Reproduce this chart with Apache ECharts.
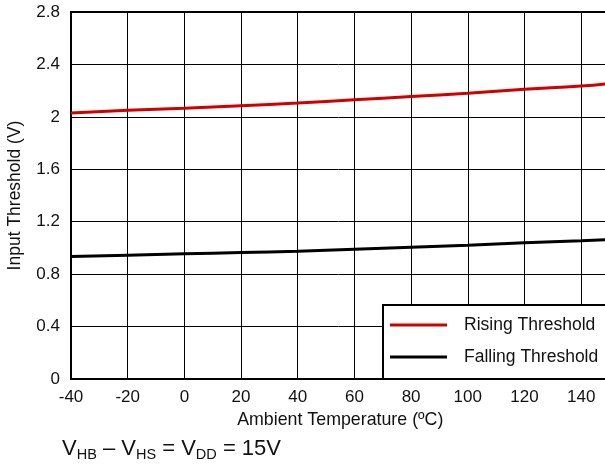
<!DOCTYPE html>
<html>
<head>
<meta charset="utf-8">
<script src="https://cdn.jsdelivr.net/npm/echarts@6/dist/echarts.min.js"></script>
<style>
  html, body { margin: 0; padding: 0; background: #fff; }
  #chart { width: 605px; height: 466px; }
</style>
</head>
<body>
<div id="chart"></div>
<script>
// Ambient temperature sample points (ºC)
const temperatures = [-40, -20, 0, 20, 40, 60, 80, 100, 120, 140, 150];
// Input threshold voltages (V)
const risingThreshold  = [2.03, 2.05, 2.065, 2.085, 2.105, 2.13, 2.155, 2.18, 2.21, 2.235, 2.255];
const fallingThreshold = [0.935, 0.945, 0.955, 0.965, 0.975, 0.99, 1.005, 1.02, 1.04, 1.055, 1.065];
const seriesNames = ['Rising Threshold', 'Falling Threshold'];
const xAxisTitle = 'Ambient Temperature (ºC)';
const yAxisTitle = 'Input Threshold (V)';

const FONT = 'Liberation Sans, Arial, Helvetica, sans-serif';
const pairs = (vals) => temperatures.map((t, i) => [t, vals[i]]);

const chart = echarts.init(document.getElementById('chart'), null, { renderer: 'canvas' });
chart.setOption({
  animation: false,
  backgroundColor: '#fff',
  textStyle: { fontFamily: FONT },
  grid: {
    left: 71, top: 12, width: 538.5, bottom: 87,
    outerBoundsMode: 'none', containLabel: false,
    show: true, borderColor: '#000', borderWidth: 2, backgroundColor: 'transparent'
  },
  xAxis: {
    type: 'value', min: -40, max: 150, interval: 20,
    name: xAxisTitle, nameLocation: 'middle', nameGap: 28,
    nameTextStyle: { fontSize: 17.8, color: '#111', fontFamily: FONT },
    axisLine: { show: true, onZero: false, lineStyle: { color: '#000', width: 2 } },
    axisTick: { show: false },
    axisLabel: { fontSize: 17, color: '#111', margin: 10, showMaxLabel: false, fontFamily: FONT },
    splitLine: { show: true, lineStyle: { color: '#000', width: 1 } }
  },
  yAxis: {
    type: 'value', min: 0, max: 2.8, interval: 0.4,
    name: yAxisTitle, nameLocation: 'middle', nameGap: 47,
    nameTextStyle: { fontSize: 17.5, color: '#111', fontFamily: FONT },
    axisLine: { show: true, onZero: false, lineStyle: { color: '#000', width: 2 } },
    axisTick: { show: false },
    axisLabel: { fontSize: 17, color: '#111', margin: 11, fontFamily: FONT },
    splitLine: { show: true, lineStyle: { color: '#000', width: 1 } }
  },
  legend: {
    orient: 'vertical', left: 383, top: 305,
    padding: [11, 14, 13, 7],
    icon: 'rect',
    itemWidth: 57, itemHeight: 3, itemGap: 14,
    backgroundColor: '#fff', borderColor: '#000', borderWidth: 2,
    textStyle: { fontSize: 17.5, color: '#111', lineHeight: 18, padding: [0, 0, 0, 12], fontFamily: FONT },
    data: seriesNames
  },
  graphic: [{
    type: 'text', left: 62, top: 437,
    style: {
      text: '{m|V}{s|HB}{m| – V}{s|HS}{m| = V}{s|DD}{m| = 15V}',
      fill: '#111',
      rich: {
        m: { fontSize: 22, fontFamily: FONT, fill: '#111', lineHeight: 26 },
        s: { fontSize: 14.5, fontFamily: FONT, fill: '#111', verticalAlign: 'bottom', lineHeight: 26, padding: [10, 0, 0, 0] }
      }
    }
  }],
  series: [
    {
      name: seriesNames[0], type: 'line', data: pairs(risingThreshold),
      smooth: true, symbol: 'none', lineStyle: { color: '#d00000', width: 3 }, itemStyle: { color: '#d00000' }
    },
    {
      name: seriesNames[1], type: 'line', data: pairs(fallingThreshold),
      smooth: true, symbol: 'none', lineStyle: { color: '#000', width: 3 }, itemStyle: { color: '#000' }
    }
  ]
});
</script>
</body>
</html>
